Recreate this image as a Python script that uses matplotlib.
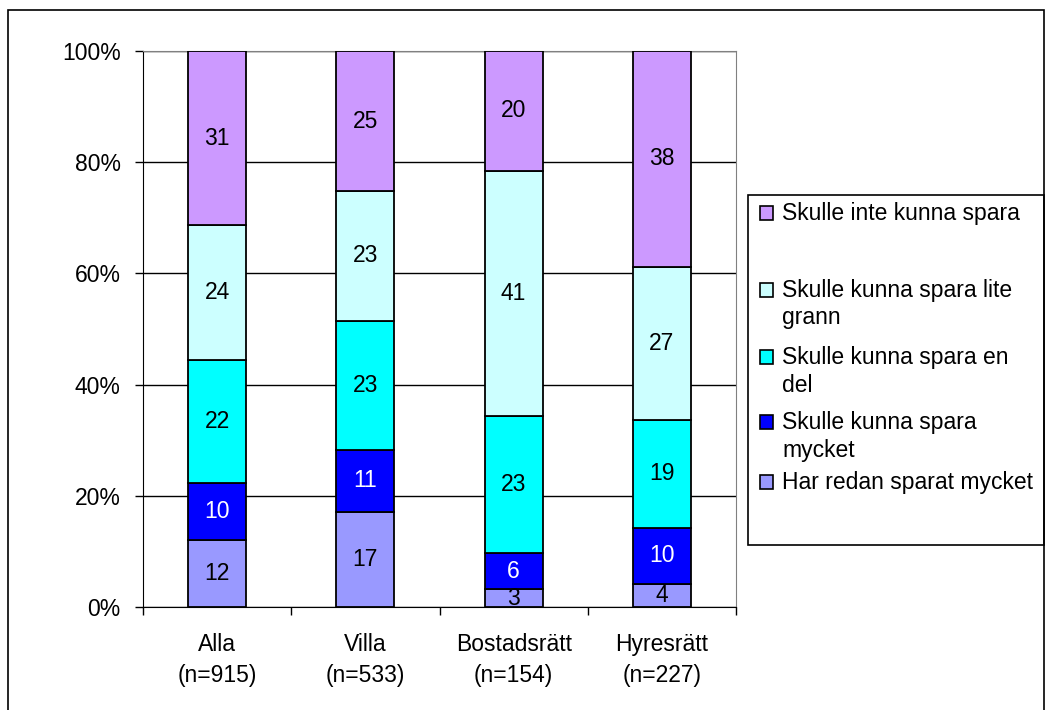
import matplotlib.pyplot as plt
from matplotlib.patches import Rectangle
import numpy as np

plt.rcParams['font.family'] = ['Liberation Sans', 'DejaVu Sans']

categories = ["Alla\n(n=915)", "Villa\n(n=533)", "Bostadsrätt\n(n=154)", "Hyresrätt\n(n=227)"]
series_names = ["Har redan sparat mycket", "Skulle kunna spara\nmycket",
                "Skulle kunna spara en\ndel", "Skulle kunna spara lite\ngrann",
                "Skulle inte kunna spara"]
har_redan = [12, 17, 3, 4]
kunna_mycket = [10, 11, 6, 10]
kunna_en_del = [22, 23, 23, 19]
kunna_lite = [24, 23, 41, 27]
inte_kunna = [31, 25, 20, 38]

colors = ["#9999FF", "#0000FF", "#00FFFF", "#CCFFFF", "#CC99FF"]
text_colors = ["black", "white", "black", "black", "black"]

data = np.array([har_redan, kunna_mycket, kunna_en_del, kunna_lite, inte_kunna], dtype=float)
totals = data.sum(axis=0)
pct = data / totals * 100

W, H = 1046, 710
fs = 16.5
fig = plt.figure(figsize=(W / 100, H / 100), dpi=100)
ax = fig.add_axes([143 / W, 1 - 607 / H, (736 - 143) / W, (607 - 51) / H])

x = np.arange(len(categories))
bottom = np.zeros(len(categories))
for i in range(len(data)):
    ax.bar(x, pct[i], 0.39, bottom=bottom, color=colors[i], edgecolor="black",
           linewidth=1.3, zorder=3)
    for j in range(len(categories)):
        ax.text(x[j], bottom[j] + pct[i][j] / 2, "%d" % data[i][j], ha="center", va="center",
                fontsize=fs, color=text_colors[i], zorder=4)
    bottom += pct[i]

ax.set_xlim(-0.5, len(categories) - 0.5)
ax.set_ylim(0, 100)
ax.set_yticks(np.arange(0, 101, 20))
ax.set_yticklabels(["%d%%" % v for v in range(0, 101, 20)], fontsize=fs)
ax.yaxis.grid(True, color="black", linewidth=1)
ax.set_axisbelow(True)
ax.set_xticks(x)
ax.set_xticklabels(categories, fontsize=fs, linespacing=1.4)
ax.set_xticks(np.arange(-0.5, len(categories), 1), minor=True)
ax.tick_params(axis="x", which="major", length=0, pad=19)
ax.tick_params(axis="x", which="minor", length=6, direction="out", width=1)
ax.tick_params(axis="y", length=6, width=1, pad=10)
for s in ["top", "right"]:
    ax.spines[s].set_color("#808080")
for s in ["left", "bottom"]:
    ax.spines[s].set_color("black")

# legend drawn by hand (Excel-style spacing, reversed order)
def fx(px):
    return px / W

def fy(py):
    return 1 - py / H

fig.patches.append(Rectangle((fx(748), fy(545)), fx(1044) - fx(748), fy(195) - fy(545),
                             transform=fig.transFigure, fill=False, edgecolor="black",
                             linewidth=1.2))
entry_y = [482, 422, 357, 290, 213]
for i in range(len(series_names)):
    yc = entry_y[i]
    fig.patches.append(Rectangle((fx(760), fy(yc + 7)), fx(773) - fx(760), fy(yc - 7) - fy(yc + 7),
                                 transform=fig.transFigure, facecolor=colors[i],
                                 edgecolor="black", linewidth=1.2))
    fig.text(fx(782), fy(yc - 11), series_names[i], ha="left", va="top", fontsize=fs,
             linespacing=1.25)

# outer chart border
fig.patches.append(Rectangle((fx(8), -0.05), fx(1044) - fx(8), 1.05 - 10 / H,
                             transform=fig.transFigure, fill=False, edgecolor="black",
                             linewidth=1.2))

fig.savefig("out.png", dpi=100)
